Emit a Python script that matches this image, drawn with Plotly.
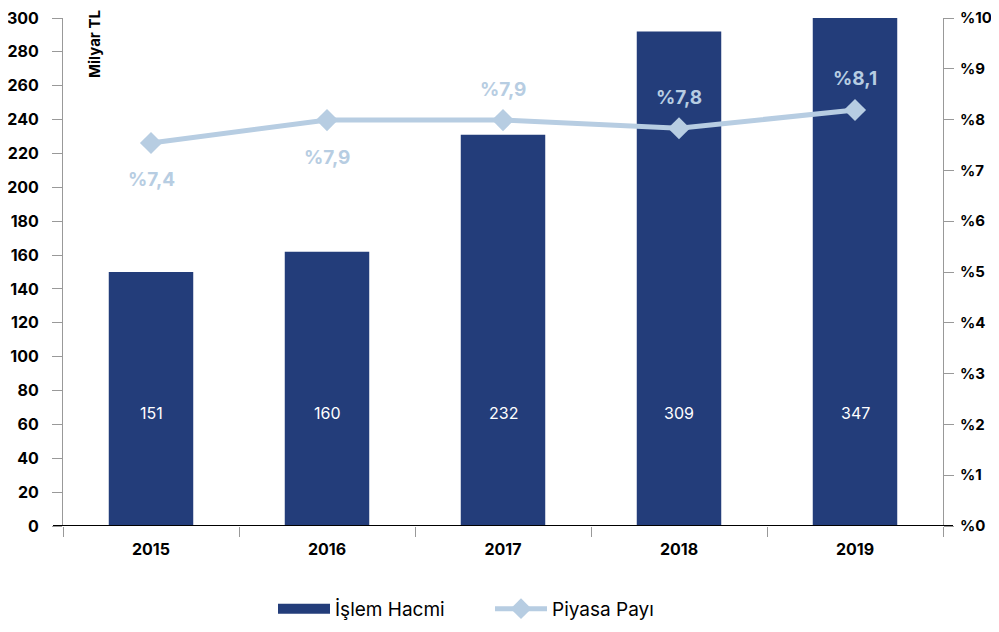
import plotly.graph_objects as go

years = ["2015", "2016", "2017", "2018", "2019"]
volume_heights = [150, 162, 231, 292, 347]
volume_labels = ["151", "160", "232", "309", "347"]
share_values = [7.54, 7.99, 7.99, 7.83, 8.19]
share_labels = ["%7,4", "%7,9", "%7,9", "%7,8", "%8,1"]
share_label_side = ["below", "below", "above", "above", "above"]

BAR = "#233d7a"
LINE = "#b7cde2"
FONT = "Inter"

fig = go.Figure()
fig.add_trace(go.Bar(
    x=years, y=volume_heights, name="İşlem Hacmi",
    marker=dict(color=BAR, line=dict(width=0)), width=0.48,
    hoverinfo="skip", yaxis="y", showlegend=False,
))
# legend proxy for the bar series (wide rectangular swatch)
fig.add_trace(go.Scatter(
    x=[None], y=[None], name="İşlem Hacmi", mode="lines",
    line=dict(color=BAR, width=12), hoverinfo="skip",
))
fig.add_trace(go.Scatter(
    x=years, y=share_values, name="Piyasa Payı", yaxis="y2",
    mode="lines+markers",
    line=dict(color=LINE, width=5),
    marker=dict(symbol="diamond", size=17, color=LINE),
    hoverinfo="skip",
))

annotations = []
for i, lab in enumerate(volume_labels):
    annotations.append(dict(
        x=i, y=67, xref="x", yref="y", text=lab, showarrow=False,
        font=dict(family=FONT, size=16, color="white"),
    ))
for i, (v, lab, side) in enumerate(zip(share_values, share_labels, share_label_side)):
    annotations.append(dict(
        x=i, y=v, xref="x", yref="y2", text="<b>%s</b>" % lab, showarrow=False,
        yshift=-37 if side == "below" else 31,
        font=dict(family=FONT, size=19, color=LINE),
    ))
annotations.append(dict(
    x=(95 - 63) / 880, y=1.0197, xref="paper", yref="paper",
    text="<b>Milyar TL</b>", textangle=-90, showarrow=False,
    xanchor="center", yanchor="top",
    font=dict(family=FONT, size=15, color="black"),
))

tickfont = dict(family=FONT, size=16, color="black", weight="bold")
tickfont_right = dict(family=FONT, size=15, color="black", weight="bold")

fig.update_layout(
    width=983, height=616,
    margin=dict(l=55, r=48, t=10, b=98, autoexpand=False),
    paper_bgcolor="white", plot_bgcolor="white",
    font=dict(family=FONT, color="black"),
    showlegend=True,
    legend=dict(orientation="h", x=(265 - 55) / 880, xanchor="left", y=-0.163, yanchor="middle",
                font=dict(family=FONT, size=19, color="black"),
                entrywidth=150, entrywidthmode="pixels",
                itemwidth=52, traceorder="normal"),
    annotations=annotations,
    xaxis=dict(
        type="category", range=[-0.5, 4.5], tickson="boundaries", ticks="outside", ticklen=10,
        tickcolor="#999999", showgrid=False, showline=False, zeroline=False,
        tickfont=tickfont, tickangle=0, ticklabelstandoff=12, automargin=False,
    ),
    yaxis=dict(
        range=[0, 300], dtick=20, ticks="outside", ticklen=10, tickcolor="#999999",
        showline=True, linecolor="#999999", linewidth=1, showgrid=False,
        zeroline=False, tickfont=tickfont, ticklabelstandoff=10, automargin=False,
        ticklabeloverflow="allow",
    ),
    yaxis2=dict(
        range=[0, 10], dtick=1, overlaying="y", side="right", tickprefix="%",
        ticks="outside", ticklen=10, tickcolor="#999999",
        showline=True, linecolor="#999999", linewidth=1, showgrid=False,
        zeroline=False, tickfont=tickfont_right, ticklabelstandoff=3, automargin=False,
        ticklabeloverflow="allow",
    ),
    shapes=[dict(type="line", xref="paper", yref="y", x0=-10 / 880, x1=1 + 10 / 880,
                 y0=0, y1=0, line=dict(color="black", width=2), layer="above")],
)

fig.write_html("out.html")
